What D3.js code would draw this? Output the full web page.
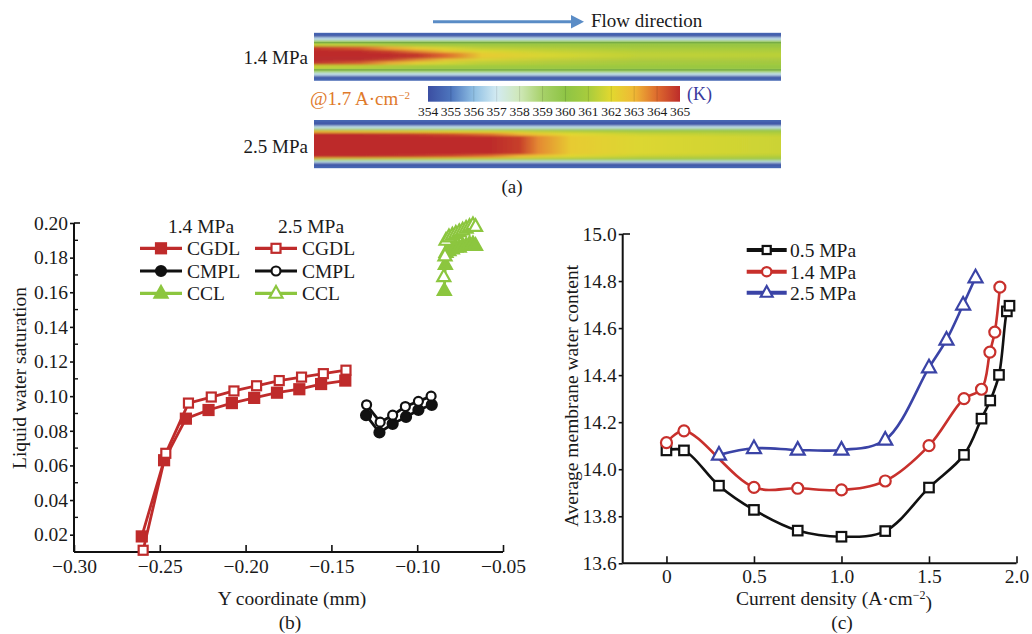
<!DOCTYPE html>
<html><head><meta charset="utf-8">
<script src="https://cdn.jsdelivr.net/npm/d3@7"></script>
<style>
body{margin:0;background:#fff}
svg{display:block}
text{font-family:"Liberation Serif","Times New Roman",serif;fill:#1a1a1a}
</style>
</head><body>
<svg id="fig" width="1032" height="634"></svg>
<script>
// ================= DATA =================
// (a) temperature field
const tempTicks = [354,355,356,357,358,359,360,361,362,363,364,365];
const tempColors = ["#3b4ea2","#4d75bd","#8fbfe3","#d3ebf2","#cfe8b8","#a7d169","#8ec445","#a8cc3d","#e2d82f","#efb835","#dd6a2e","#bd2c2a"];
const field14X = [0, 0.1, 0.16, 0.22, 0.28, 0.36, 0.5, 0.7, 1.0];
const field14Side   = [361.5, 361.3, 361.1, 360.9, 360.8, 360.7, 360.6, 360.5, 360.4];
const field14Edge   = [364.8, 364.2, 363.2, 362.3, 361.8, 361.4, 361.2, 361.0, 360.9];
const field14Mid    = [365, 365, 364.6, 363.6, 362.6, 361.9, 361.5, 361.2, 361.1];
const field14Center = [365, 365, 365, 364.8, 364.0, 362.4, 361.8, 361.4, 361.3];
const field14Rows = [
  [0, 0.03, [355]], [0.03, 0.10, [354.2]], [0.10, 0.16, [356.8]], [0.16, 0.20, [359]],
  [0.20, 0.22, [359.6]], [0.22, 0.29, field14Side], [0.29, 0.36, field14Edge],
  [0.36, 0.42, field14Mid], [0.42, 0.54, field14Center], [0.54, 0.60, field14Mid],
  [0.60, 0.67, field14Edge], [0.67, 0.76, field14Side], [0.76, 0.79, [359.6]],
  [0.79, 0.84, [359]], [0.84, 0.90, [356.8]], [0.90, 0.97, [354.2]], [0.97, 1.0, [355]]
];
const field14Lines = [0.21, 0.775];
const field25X = [0, 0.1, 0.2, 0.3, 0.38, 0.44, 0.48, 0.55, 0.7, 1.0];
const field25Side = [363.0, 362.7, 362.4, 362.1, 361.9, 361.7, 361.5, 361.3, 361.0, 360.8];
const field25Edge = [365, 365, 364.8, 364.4, 363.8, 363.0, 362.5, 362.0, 361.6, 361.3];
const field25Core = [365, 365, 365, 365, 365, 364.7, 363.6, 362.4, 361.9, 361.6];
const field25Rows = [
  [0, 0.035, [355]], [0.035, 0.125, [354.2]], [0.125, 0.18, [356.8]], [0.18, 0.22, [359.3]],
  [0.22, 0.27, field25Side], [0.27, 0.33, field25Edge], [0.33, 0.72, field25Core],
  [0.72, 0.78, field25Edge], [0.78, 0.81, field25Side], [0.81, 0.85, [359.3]],
  [0.85, 0.89, [356.8]], [0.89, 0.97, [354.2]], [0.97, 1.0, [355]]
];

// (b) liquid water saturation vs Y coordinate
const bXTicks = [-0.30,-0.25,-0.20,-0.15,-0.10,-0.05];
const bYTicks = [0.02,0.04,0.06,0.08,0.10,0.12,0.14,0.16,0.18,0.20];
const cgdl14X = [-0.2605,-0.2475,-0.2348,-0.2216,-0.2080,-0.1950,-0.1817,-0.1687,-0.1560,-0.1419];
const cgdl14Y = [0.019,0.063,0.087,0.092,0.096,0.099,0.102,0.104,0.107,0.109];
const cgdl25X = [-0.2597,-0.2465,-0.2333,-0.2200,-0.2068,-0.1936,-0.1804,-0.1674,-0.1547,-0.1415];
const cgdl25Y = [0.011,0.067,0.096,0.0995,0.103,0.106,0.109,0.111,0.113,0.115];
const cmpl14X = [-0.1298,-0.1220,-0.1143,-0.1065,-0.0993,-0.0915];
const cmpl14Y = [0.089,0.079,0.084,0.088,0.092,0.095];
const cmpl25X = [-0.1295,-0.1216,-0.1143,-0.1069,-0.0993,-0.0919];
const cmpl25Y = [0.095,0.085,0.089,0.094,0.097,0.100];
const ccl14X = [-0.0842,-0.0836,-0.0832,-0.0815,-0.0795,-0.0775,-0.0755,-0.0735,-0.0715,-0.0695,-0.0675,-0.0660];
const ccl14Y = [0.161,0.176,0.183,0.184,0.185,0.186,0.186,0.187,0.187,0.188,0.188,0.187];
const ccl25X = [-0.0845,-0.0838,-0.0832,-0.0815,-0.0795,-0.0775,-0.0755,-0.0735,-0.0715,-0.0695,-0.0675,-0.0660];
const ccl25Y = [0.169,0.181,0.190,0.192,0.193,0.194,0.195,0.196,0.197,0.198,0.199,0.198];

// (c) average membrane water content vs current density
const cXTicks = [0, 0.5, 1.0, 1.5, 2.0];
const cXTickLabels = ["0","0.5","1.0","1.5","2.0"];
const cYTicks = [13.6,13.8,14.0,14.2,14.4,14.6,14.8,15.0];
const cd05 = [0.0,0.1,0.3,0.5,0.75,1.0,1.25,1.5,1.7,1.8,1.85,1.9,1.945,1.96];
const wc05 = [14.08,14.08,13.93,13.827,13.739,13.713,13.737,13.922,14.061,14.215,14.292,14.401,14.671,14.695];
const cd14 = [0.0,0.1,0.5,0.75,1.0,1.25,1.5,1.7,1.8,1.848,1.876,1.905];
const wc14 = [14.113,14.163,13.923,13.919,13.912,13.95,14.1,14.30,14.34,14.498,14.583,14.774];
const cd25 = [0.3,0.5,0.75,1.0,1.25,1.5,1.6,1.695,1.766];
const wc25 = [14.061,14.089,14.082,14.082,14.125,14.432,14.55,14.699,14.815];

// ================= DRAW =================
const svg = d3.select("#fig");
const defs = svg.append("defs");
const FONT = 19.5;

// ---------- (a) ----------
const color = d3.scaleLinear().domain(tempTicks).range(tempColors).interpolate(d3.interpolateRgb);
defs.append("filter").attr("id","vblur").attr("x","-2%").attr("y","-10%").attr("width","104%").attr("height","120%")
  .append("feGaussianBlur").attr("stdDeviation","0 0.8");

function drawField(id, x0, x1, y0, y1, xStops, rows, lines) {
  const fx = d3.scaleLinear().domain([0,1]).range([x0,x1]);
  const fy = d3.scaleLinear().domain([0,1]).range([y0,y1]);
  defs.append("clipPath").attr("id", id+"clip").append("rect")
    .attr("x", fx(0)).attr("y", fy(0)).attr("width", fx(1)-fx(0)).attr("height", fy(1)-fy(0));
  const outer = svg.append("g").attr("clip-path", `url(#${id}clip)`);
  outer.append("rect").attr("x", fx(0)).attr("y", fy(0)).attr("width", fx(1)-fx(0)).attr("height", fy(1)-fy(0)).attr("fill", color(354.2));
  const g = outer.append("g").attr("filter","url(#vblur)");
  rows.forEach((r, i) => {
    let fill;
    if (r[2].length === 1) fill = color(r[2][0]);
    else {
      const gid = id + "g" + i;
      const lg = defs.append("linearGradient").attr("id", gid).attr("x1",0).attr("x2",1).attr("y1",0).attr("y2",0);
      r[2].forEach((t, j) => lg.append("stop").attr("offset", xStops[j]).attr("stop-color", color(t)));
      fill = `url(#${gid})`;
    }
    g.append("rect").attr("x", fx(0)).attr("y", fy(r[0]) - 0.2)
      .attr("width", fx(1)-fx(0)).attr("height", fy(r[1]) - fy(r[0]) + 0.4).attr("fill", fill);
  });
  (lines || []).forEach(f => {
    outer.append("line").attr("x1", fx(0)).attr("x2", fx(1)).attr("y1", fy(f)).attr("y2", fy(f))
      .attr("stroke", "#5e9a3a").attr("stroke-width", 1).attr("opacity", 0.8);
  });
}
drawField("f14", 314, 781, 32.7, 80.7, field14X, field14Rows, field14Lines);
drawField("f25", 314, 781, 120, 168.3, field25X, field25Rows, []);

// flow arrow
svg.append("line").attr("x1",433).attr("x2",574).attr("y1",21.7).attr("y2",21.7)
  .attr("stroke","#5a8cc6").attr("stroke-width",3);
svg.append("path").attr("d","M571,15 L584,21.7 L571,28.4 Z").attr("fill","#5a8cc6");
svg.append("text").attr("x",591).attr("y",20).attr("dy","0.35em").style("font-size","19px").text("Flow direction");

svg.append("text").attr("x",308).attr("y",57).attr("dy","0.35em").attr("text-anchor","end").style("font-size","19px").text("1.4 MPa");
svg.append("text").attr("x",308).attr("y",146).attr("dy","0.35em").attr("text-anchor","end").style("font-size","19px").text("2.5 MPa");

const at = svg.append("text").attr("x",310).attr("y",98.5).attr("dy","0.35em").style("font-size","19px").style("fill","#e07a2a");
at.append("tspan").text("@1.7 A·cm");
at.append("tspan").attr("dy","-0.55em").style("font-size","11px").text("−2");

// colorbar
const cb = d3.scaleLinear().domain([354,365]).range([428,680]);
const cbg = defs.append("linearGradient").attr("id","cbgrad").attr("x1",0).attr("x2",1).attr("y1",0).attr("y2",0);
tempTicks.forEach(t => cbg.append("stop").attr("offset",(t-354)/11).attr("stop-color",color(t)));
svg.append("rect").attr("x",cb(354)).attr("y",86).attr("width",cb(365)-cb(354)).attr("height",15.7).attr("fill","url(#cbgrad)");
svg.selectAll(".cbsep").data(tempTicks.slice(1,-1)).enter().append("line")
  .attr("x1",d=>cb(d)).attr("x2",d=>cb(d)).attr("y1",86).attr("y2",101.7)
  .attr("stroke","#000").attr("stroke-opacity",0.12).attr("stroke-width",1);
svg.selectAll(".cblab").data(tempTicks).enter().append("text")
  .attr("x",d=>cb(d)).attr("y",111.7).attr("dy","0.35em").attr("text-anchor","middle")
  .style("font-size","13.5px").text(d=>d);
svg.append("text").attr("x",687).attr("y",93.3).attr("dy","0.35em").style("font-size","18px").style("fill","#3a3a9c").text("(K)");
svg.append("text").attr("x",512).attr("y",186).attr("dy","0.35em").attr("text-anchor","middle").style("font-size","19px").text("(a)");

// ---------- marker helpers ----------
function marker(g, shape, cx, cy, col, filled, size) {
  const fill = filled ? col : "#fff";
  if (shape === "square") {
    g.append("rect").attr("x",cx-size/2).attr("y",cy-size/2).attr("width",size).attr("height",size)
      .attr("fill",fill).attr("stroke",col).attr("stroke-width",2.2);
  } else if (shape === "circle") {
    g.append("circle").attr("cx",cx).attr("cy",cy).attr("r",size/2)
      .attr("fill",fill).attr("stroke",col).attr("stroke-width",2.2);
  } else {
    const h = size*0.9, s = size/2;
    g.append("path").attr("d",`M${cx},${cy-h*0.62} L${cx+s},${cy+h*0.38} L${cx-s},${cy+h*0.38} Z`)
      .attr("fill",fill).attr("stroke",col).attr("stroke-width",2.2).attr("stroke-linejoin","miter");
  }
}

// ---------- (b) ----------
const xb = d3.scaleLinear().domain([-0.30,-0.05]).range([74,503]);
const yb = d3.scaleLinear().domain([0.01,0.20]).range([552,223]);
const gb = svg.append("g");
const fmtMinus = d => d3.format(".2f")(d).replace("-","−");
const axBx = gb.append("g").attr("transform","translate(0,552)")
  .call(d3.axisBottom(xb).tickValues(bXTicks).tickSize(-7).tickPadding(7).tickFormat(fmtMinus));
const axBy = gb.append("g").attr("transform","translate(74,0)")
  .call(d3.axisLeft(yb).tickValues(bYTicks).tickSize(4).tickPadding(2).tickFormat(d3.format(".2f")));
[axBx, axBy].forEach(a => {
  a.select(".domain").attr("stroke","#111").attr("stroke-width",2);
  a.selectAll(".tick line").attr("stroke","#111").attr("stroke-width",1.6);
  a.selectAll("text").style("font-size",FONT+"px").attr("fill","#1a1a1a").style("font-family","'Liberation Serif',serif");
});
axBy.select(".domain").attr("d","M0,552V223");
axBx.select(".domain").attr("d","M74,0H503");
// minor ticks (inward)
const bMinor = d3.range(0.01, 0.2, 0.02);
gb.selectAll(".minor").data(bMinor).enter().append("line")
  .attr("x1",74).attr("x2",78).attr("y1",d=>yb(d)).attr("y2",d=>yb(d)).attr("stroke","#111").attr("stroke-width",1.4);
gb.append("line").attr("x1",74).attr("x2",80).attr("y1",yb(0.20)).attr("y2",yb(0.20)).attr("stroke","#111").attr("stroke-width",1.6);

gb.append("text").attr("transform","translate(19,378) rotate(-90)").attr("text-anchor","middle").attr("dy","0.35em")
  .style("font-size",FONT+"px").text("Liquid water saturation");
gb.append("text").attr("x",292).attr("y",598).attr("dy","0.35em").attr("text-anchor","middle")
  .style("font-size",FONT+"px").text("Y coordinate (mm)");
gb.append("text").attr("x",290).attr("y",622.5).attr("dy","0.35em").attr("text-anchor","middle")
  .style("font-size",FONT+"px").text("(b)");

const RED_B = "#bf2b2b", BLACK = "#111111", GREEN = "#8cc63f";
const bSeries = [
  {x:cgdl14X, y:cgdl14Y, col:RED_B, shape:"square", filled:true, size:10},
  {x:cmpl14X, y:cmpl14Y, col:BLACK, shape:"circle", filled:true, size:10},
  {x:ccl14X, y:ccl14Y, col:GREEN, shape:"triangle", filled:true, size:13},
  {x:cgdl25X, y:cgdl25Y, col:RED_B, shape:"square", filled:false, size:9},
  {x:cmpl25X, y:cmpl25Y, col:BLACK, shape:"circle", filled:false, size:9},
  {x:ccl25X, y:ccl25Y, col:GREEN, shape:"triangle", filled:false, size:13},
];
const lineB = d3.line().x(d=>xb(d[0])).y(d=>yb(d[1]));
bSeries.forEach(s => {
  const pts = s.x.map((v,i)=>[v, s.y[i]]);
  const g = gb.append("g");
  g.append("path").attr("d", lineB(pts)).attr("fill","none").attr("stroke", s.col).attr("stroke-width",2.8);
  pts.forEach(p => marker(g, s.shape, xb(p[0]), yb(p[1]), s.col, s.filled, s.size));
});
// legend (b)
const legB = gb.append("g");
legB.append("text").attr("x",201).attr("y",226).attr("dy","0.35em").attr("text-anchor","middle").style("font-size",FONT+"px").text("1.4 MPa");
legB.append("text").attr("x",311).attr("y",226).attr("dy","0.35em").attr("text-anchor","middle").style("font-size",FONT+"px").text("2.5 MPa");
const legRowsB = ["CGDL","CMPL","CCL"];
const legRowY = [248.3, 271, 293.3];
bSeries.forEach((s, i) => {
  const col = Math.floor(i/3), row = i % 3;
  const lx0 = col === 0 ? 140 : 255, lx1 = lx0 + 42, mx = lx0 + 21, ty = legRowY[row];
  legB.append("line").attr("x1",lx0).attr("x2",lx1).attr("y1",ty).attr("y2",ty).attr("stroke",s.col).attr("stroke-width",3.2);
  marker(legB, s.shape, mx, ty, s.col, s.filled, s.size);
  legB.append("text").attr("x",lx1+5).attr("y",ty).attr("dy","0.35em").style("font-size",FONT+"px").text(legRowsB[row]);
});

// ---------- (c) ----------
const xc = d3.scaleLinear().domain([-0.25,2.0]).range([622.7,1016.5]);
const yc = d3.scaleLinear().domain([13.6,15.0]).range([563.3,234]);
const gc = svg.append("g");
const axCx = gc.append("g").attr("transform","translate(0,563.3)")
  .call(d3.axisBottom(xc).tickValues(cXTicks).tickSize(-7).tickPadding(6).tickFormat((d,i)=>cXTickLabels[i]));
const axCy = gc.append("g").attr("transform","translate(622.7,0)")
  .call(d3.axisLeft(yc).tickValues(cYTicks).tickSize(4).tickPadding(2).tickFormat(d3.format(".1f")));
[axCx, axCy].forEach(a => {
  a.select(".domain").attr("stroke","#111").attr("stroke-width",2);
  a.selectAll(".tick line").attr("stroke","#111").attr("stroke-width",1.6);
  a.selectAll("text").style("font-size",FONT+"px").attr("fill","#1a1a1a").style("font-family","'Liberation Serif',serif");
});
axCy.select(".domain").attr("d","M0,563.3V234");
axCx.select(".domain").attr("d","M622.7,0H1016.5");
gc.append("line").attr("x1",622.7).attr("x2",630).attr("y1",yc(15)).attr("y2",yc(15)).attr("stroke","#111").attr("stroke-width",1.6);

gc.append("text").attr("transform","translate(571,396) rotate(-90)").attr("text-anchor","middle").attr("dy","0.35em")
  .style("font-size",FONT+"px").text("Average membrane water content");
const xlab = gc.append("text").attr("x",834).attr("y",598.5).attr("dy","0.35em").attr("text-anchor","middle").style("font-size",FONT+"px");
xlab.append("tspan").text("Current density (A·cm");
xlab.append("tspan").attr("dy","-0.5em").style("font-size","12px").text("−2");
xlab.append("tspan").attr("dy","0.5em").text(")");
gc.append("text").attr("x",842).attr("y",622.5).attr("dy","0.35em").attr("text-anchor","middle").style("font-size",FONT+"px").text("(c)");

const cSeries = [
  {x:cd05, y:wc05, col:"#111111", shape:"square", size:9.5, label:"0.5 MPa"},
  {x:cd14, y:wc14, col:"#c8302c", shape:"circle", size:11, label:"1.4 MPa"},
  {x:cd25, y:wc25, col:"#3a43a6", shape:"triangle", size:14, label:"2.5 MPa"},
];
const lineC = d3.line().x(d=>xc(d[0])).y(d=>yc(d[1])).curve(d3.curveCatmullRom.alpha(0.5));
cSeries.forEach(s => {
  const pts = s.x.map((v,i)=>[v, s.y[i]]);
  const g = gc.append("g");
  g.append("path").attr("d", lineC(pts)).attr("fill","none").attr("stroke", s.col).attr("stroke-width",2.6);
  pts.forEach(p => marker(g, s.shape, xc(p[0]), yc(p[1]), s.col, false, s.size));
});
const legCY = [250, 271.7, 292.7];
cSeries.forEach((s,i) => {
  const ty = legCY[i];
  gc.append("line").attr("x1",746.7).attr("x2",786.7).attr("y1",ty).attr("y2",ty).attr("stroke",s.col).attr("stroke-width",4);
  marker(gc, s.shape, 766.7, ty, s.col, false, s.size*0.85);
  gc.append("text").attr("x",790).attr("y",ty).attr("dy","0.35em").style("font-size",FONT+"px").text(s.label);
});
</script>
</body></html>
